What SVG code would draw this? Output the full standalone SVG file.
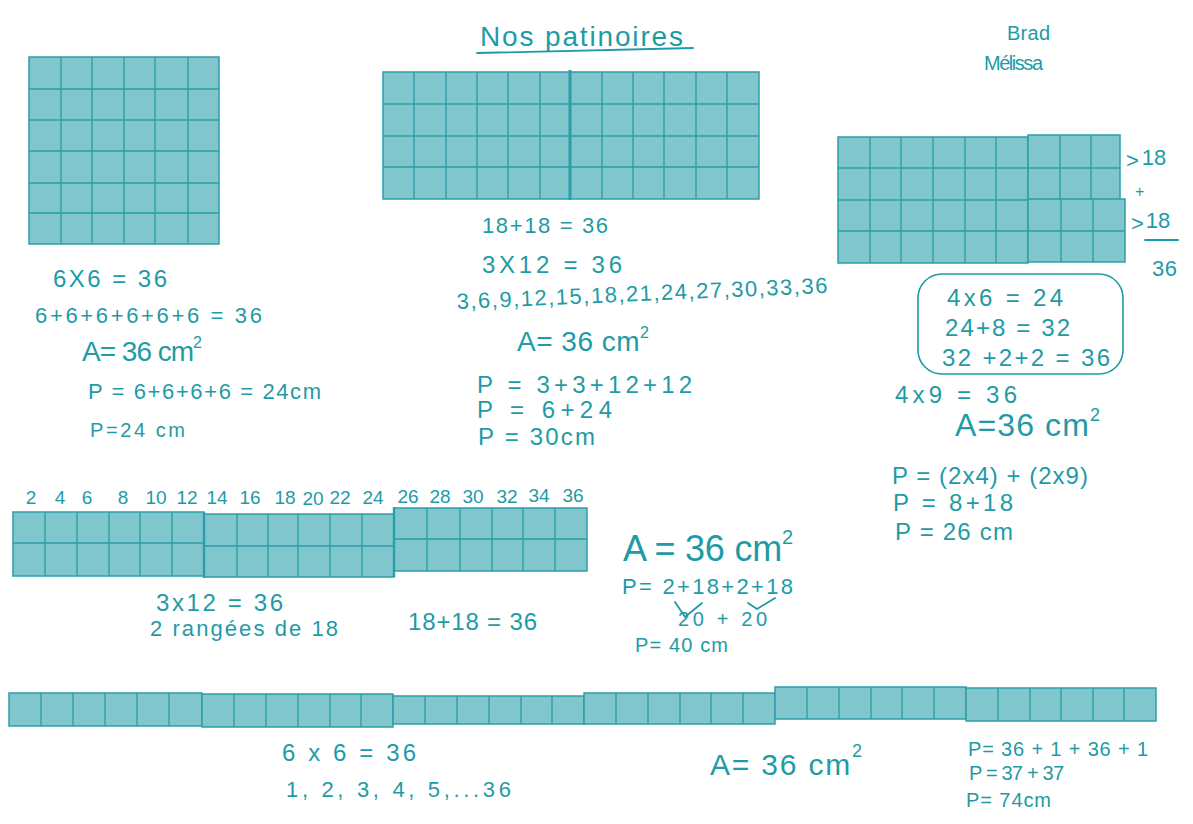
<svg xmlns="http://www.w3.org/2000/svg" width="1193" height="824" viewBox="0 0 1193 824">
<style>
.g{fill:#82c6cd;stroke:#2b9fa9;stroke-width:1.5}
.l{fill:none;stroke:#2b9fa9;stroke-width:1.4}
.lt{fill:none;stroke:#2b9fa9;stroke-width:3}
.t{font-family:"Liberation Sans",Arial,sans-serif;fill:#1e9ba6}
.p{fill:none;stroke:#1e9ba6;stroke-width:1.8;stroke-linecap:round;stroke-linejoin:round}
</style>
<rect width="1193" height="824" fill="#ffffff"/>

<g id="grid-6x6">
<rect class="g" x="29" y="57" width="190" height="187"/>
<path class="l" d="M61 57V244M92 57V244M124 57V244M155 57V244M188 57V244M29 89H219M29 120H219M29 151H219M29 183H219M29 213H219"/>
</g>
<g id="text-6x6">
<text class="t" x="53" y="287" font-size="24" textLength="114" lengthAdjust="spacing">6X6 = 36</text>
<text class="t" x="35" y="323" font-size="22" textLength="227" lengthAdjust="spacing">6+6+6+6+6+6 = 36</text>
<text class="t" x="82" y="361" font-size="28" textLength="120" lengthAdjust="spacing">A= 36 cm<tspan dy="-13" font-size="16">2</tspan></text>
<text class="t" x="88" y="399" font-size="22" textLength="233" lengthAdjust="spacing">P = 6+6+6+6 = 24cm</text>
<text class="t" x="90" y="437" font-size="20" textLength="95" lengthAdjust="spacing">P=24 cm</text>
</g>

<g id="title">
<text class="t" x="480" y="46" font-size="28" textLength="203" lengthAdjust="spacing">Nos patinoires</text>
<path class="p" d="M477 53L693 48"/>
</g>

<g id="grid-3x12">
<rect class="g" x="383" y="72" width="376" height="127"/>
<path class="l" d="M414 72V199M446 72V199M477 72V199M508 72V199M540 72V199M602 72V199M633 72V199M664 72V199M696 72V199M727 72V199M383 104H759M383 136H759M383 167H759"/>
<path class="lt" d="M570 70V200"/>
</g>
<g id="text-3x12">
<text class="t" x="482" y="233" font-size="22" textLength="126" lengthAdjust="spacing">18+18 = 36</text>
<text class="t" x="482" y="273" font-size="24" textLength="140" lengthAdjust="spacing">3X12 = 36</text>
<text class="t" x="457" y="309" font-size="22" textLength="371" lengthAdjust="spacing" transform="rotate(-2.5 457 309)">3,6,9,12,15,18,21,24,27,30,33,36</text>
<text class="t" x="517" y="351" font-size="28" textLength="132" lengthAdjust="spacing">A= 36 cm<tspan dy="-13" font-size="16">2</tspan></text>
<text class="t" x="477" y="393" font-size="24" textLength="215" lengthAdjust="spacing">P = 3+3+12+12</text>
<text class="t" x="477" y="418" font-size="24" textLength="135" lengthAdjust="spacing">P = 6+24</text>
<text class="t" x="478" y="445" font-size="24" textLength="117" lengthAdjust="spacing">P = 30cm</text>
</g>

<g id="names">
<text class="t" x="1007" y="40" font-size="20" textLength="43" lengthAdjust="spacing">Brad</text>
<text class="t" x="984" y="70" font-size="20" textLength="59" lengthAdjust="spacing">Mélissa</text>
</g>

<g id="grid-4x9">
<rect class="g" x="838" y="137" width="190" height="126"/>
<path class="l" d="M870 137V263M901 137V263M933 137V263M965 137V263M996 137V263M838 168H1028M838 200H1028M838 231H1028"/>
<rect class="g" x="1028" y="135" width="92" height="65"/>
<path class="l" d="M1060 135V200M1091 135V200M1028 168H1120"/>
<rect class="g" x="1028" y="199" width="97" height="63"/>
<path class="l" d="M1061 199V262M1093 199V262M1028 231H1125"/>
</g>
<g id="text-4x9">
<text class="t" x="1126" y="168" font-size="22">&gt;<tspan dx="3" dy="-3">18</tspan></text>
<text class="t" x="1135" y="197" font-size="16">+</text>
<text class="t" x="1131" y="231" font-size="22">&gt;<tspan dx="2" dy="-3">18</tspan></text>
<path class="p" d="M1145 240L1178 240"/>
<text class="t" x="1152" y="276" font-size="22" textLength="25" lengthAdjust="spacing">36</text>
<rect x="918" y="274" width="205" height="100" rx="24" fill="none" stroke="#1e9ba6" stroke-width="1.6"/>
<text class="t" x="947" y="306" font-size="24" textLength="116" lengthAdjust="spacing">4x6 = 24</text>
<text class="t" x="945" y="336" font-size="24" textLength="125" lengthAdjust="spacing">24+8 = 32</text>
<text class="t" x="942" y="366" font-size="24" textLength="168" lengthAdjust="spacing">32 +2+2 = 36</text>
<text class="t" x="895" y="403" font-size="24" textLength="122" lengthAdjust="spacing">4x9 = 36</text>
<text class="t" x="955" y="436" font-size="32" textLength="145" lengthAdjust="spacing">A=36 cm<tspan dy="-15" font-size="18">2</tspan></text>
<text class="t" x="892" y="484" font-size="24" textLength="196" lengthAdjust="spacing">P = (2x4) + (2x9)</text>
<text class="t" x="893" y="511" font-size="24" textLength="120" lengthAdjust="spacing">P = 8+18</text>
<text class="t" x="895" y="540" font-size="24" textLength="118" lengthAdjust="spacing">P = 26 cm</text>
</g>

<g id="grid-2x18">
<rect class="g" x="13" y="512" width="191" height="64"/>
<path class="l" d="M45 512V576M77 512V576M109 512V576M140 512V576M172 512V576M13 543H204"/>
<rect class="g" x="204" y="514" width="190" height="63"/>
<path class="l" d="M237 514V577M268 514V577M298 514V577M330 514V577M362 514V577M204 546H394"/>
<rect class="g" x="394" y="508" width="193" height="63"/>
<path class="l" d="M427 508V571M460 508V571M492 508V571M523 508V571M555 508V571M394 539H587"/>
<path class="lt" style="stroke-width:2.4" d="M204 512V578M394 507V577"/>
</g>
<g id="text-2x18" font-size="19">
<text class="t" x="31" y="504" text-anchor="middle">2</text>
<text class="t" x="60" y="504" text-anchor="middle">4</text>
<text class="t" x="87" y="504" text-anchor="middle">6</text>
<text class="t" x="123" y="504" text-anchor="middle">8</text>
<text class="t" x="156" y="504" text-anchor="middle">10</text>
<text class="t" x="187" y="504" text-anchor="middle">12</text>
<text class="t" x="217" y="504" text-anchor="middle">14</text>
<text class="t" x="250" y="504" text-anchor="middle">16</text>
<text class="t" x="285" y="504" text-anchor="middle">18</text>
<text class="t" x="313" y="505" text-anchor="middle">20</text>
<text class="t" x="340" y="504" text-anchor="middle">22</text>
<text class="t" x="373" y="504" text-anchor="middle">24</text>
<text class="t" x="408" y="503" text-anchor="middle">26</text>
<text class="t" x="440" y="503" text-anchor="middle">28</text>
<text class="t" x="473" y="503" text-anchor="middle">30</text>
<text class="t" x="507" y="503" text-anchor="middle">32</text>
<text class="t" x="539" y="502" text-anchor="middle">34</text>
<text class="t" x="573" y="502" text-anchor="middle">36</text>
<text class="t" x="156" y="611" font-size="24" textLength="127" lengthAdjust="spacing">3x12 = 36</text>
<text class="t" x="150" y="636" font-size="22" textLength="188" lengthAdjust="spacing">2 rangées de 18</text>
<text class="t" x="408" y="630" font-size="24" textLength="129" lengthAdjust="spacing">18+18 = 36</text>
</g>

<g id="text-area-perimeter-40">
<text class="t" x="623" y="561" font-size="36" textLength="170" lengthAdjust="spacing">A = 36 cm<tspan dy="-17" font-size="20">2</tspan></text>
<text class="t" x="622" y="594" font-size="22" textLength="171" lengthAdjust="spacing">P= 2+18+2+18</text>
<path class="p" d="M675 602L685 617L702 603M748 603L757 609L775 598"/>
<text class="t" x="678" y="626" font-size="20" textLength="89" lengthAdjust="spacing">20 + 20</text>
<text class="t" x="635" y="652" font-size="20" textLength="93" lengthAdjust="spacing">P= 40 cm</text>
</g>

<g id="grid-1x36">
<rect class="g" x="9" y="693" width="193" height="33"/>
<path class="l" d="M41 693V726M73 693V726M105 693V726M137 693V726M169 693V726"/>
<rect class="g" x="202" y="694" width="191" height="33"/>
<path class="l" d="M234 694V727M266 694V727M298 694V727M330 694V727M361 694V727"/>
<rect class="g" x="393" y="696" width="191" height="28"/>
<path class="l" d="M425 696V724M457 696V724M489 696V724M521 696V724M552 696V724"/>
<rect class="g" x="584" y="693" width="191" height="31"/>
<path class="l" d="M616 693V724M648 693V724M680 693V724M711 693V724M743 693V724"/>
<rect class="g" x="775" y="687" width="191" height="32"/>
<path class="l" d="M807 687V719M839 687V719M871 687V719M902 687V719M934 687V719"/>
<rect class="g" x="966" y="688" width="190" height="33"/>
<path class="l" d="M998 688V721M1030 688V721M1061 688V721M1093 688V721M1124 688V721"/>
</g>
<g id="text-1x36">
<text class="t" x="282" y="761" font-size="24" textLength="134" lengthAdjust="spacing">6 x 6 = 36</text>
<text class="t" x="286" y="797" font-size="22" textLength="225" lengthAdjust="spacing">1, 2, 3, 4, 5,...36</text>
<text class="t" x="710" y="775" font-size="30" textLength="152" lengthAdjust="spacing">A= 36 cm<tspan dy="-18" font-size="18">2</tspan></text>
<text class="t" x="968" y="756" font-size="20" textLength="180" lengthAdjust="spacing">P= 36 + 1 + 36 + 1</text>
<text class="t" x="969" y="780" font-size="20" textLength="95" lengthAdjust="spacing">P = 37 + 37</text>
<text class="t" x="966" y="807" font-size="20" textLength="85" lengthAdjust="spacing">P= 74cm</text>
</g>
</svg>
